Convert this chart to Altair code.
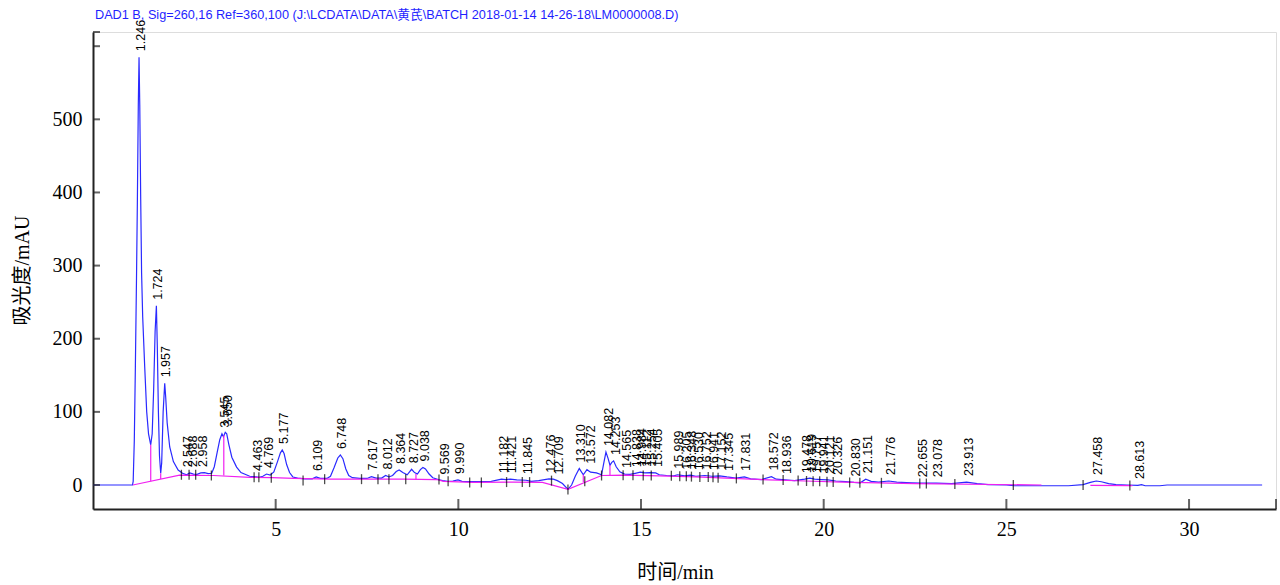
import altair as alt
import pandas as pd

# ---------------- data ----------------
trace_t = [0.0, 1.08, 1.10, 1.13, 1.16, 1.19, 1.215, 1.24, 1.26, 1.28, 1.306, 1.33, 1.36, 1.415, 1.47,
           1.52, 1.58, 1.62, 1.66, 1.70, 1.735, 1.76, 1.79, 1.82, 1.853, 1.88, 1.92, 1.963, 1.99, 2.03,
           2.10, 2.20, 2.33, 2.45, 2.56, 2.65, 2.75, 2.85, 2.95, 3.05, 3.15, 3.25, 3.32, 3.40, 3.47,
           3.53, 3.57, 3.62, 3.66, 3.72, 3.80, 3.93, 4.05, 4.29, 4.46, 4.55, 4.65, 4.75, 4.85, 4.95,
           5.05, 5.13, 5.18, 5.23, 5.30, 5.38, 5.47, 5.60, 5.80, 6.00, 6.11, 6.22, 6.40, 6.50, 6.60,
           6.70, 6.77, 6.84, 6.92, 7.00, 7.10, 7.30, 7.50, 7.62, 7.75, 7.90, 8.01, 8.10, 8.20, 8.30,
           8.38, 8.48, 8.60, 8.72, 8.80, 8.88, 8.96, 9.03, 9.10, 9.20, 9.30, 9.45, 9.57, 9.70, 9.85,
           9.99, 10.10, 10.30, 10.60, 10.90, 11.18, 11.30, 11.42, 11.60, 11.85, 12.00, 12.20, 12.48,
           12.60, 12.71, 12.85, 13.00, 13.10, 13.20, 13.31, 13.42, 13.52, 13.62, 13.78, 13.92, 13.98,
           14.04, 14.10, 14.15, 14.20, 14.25, 14.32, 14.42, 14.55, 14.70, 14.84, 14.98, 15.10, 15.25,
           15.40, 15.50, 15.70, 15.90, 16.00, 16.20, 16.35, 16.50, 16.75, 16.94, 17.15, 17.35, 17.60,
           17.83, 18.00, 18.30, 18.57, 18.70, 18.94, 19.20, 19.48, 19.62, 19.75, 19.94, 20.12, 20.33,
           20.60, 20.83, 21.00, 21.15, 21.30, 21.50, 21.78, 22.00, 22.40, 22.65, 23.08, 23.50, 23.91,
           24.20, 24.50, 25.00, 25.20, 26.70, 27.10, 27.30, 27.46, 27.60, 27.80, 28.00, 28.30, 28.60,
           28.70, 28.80, 29.20, 29.40, 32.00]
trace_v = [0, 0, 5, 60, 162, 280, 390, 520, 585, 520, 390, 290, 230, 162, 100,
           70, 55, 70, 130, 210, 245, 190, 100, 40, 16, 30, 100, 139, 120, 85,
           52, 32, 20.5, 16, 14, 16.5, 15, 14.5, 16.5, 17, 15.5, 16, 25, 45, 62,
           70, 66, 72, 70, 55, 38, 24.5, 17, 12, 11, 10.5, 12, 15, 13.5, 18,
           32, 44, 48, 43, 28, 17, 11, 9.5, 8.5, 8.5, 11, 9, 9, 12, 24,
           37, 41, 36, 22, 13, 10, 9, 9, 11.5, 9.5, 9.5, 13, 11, 13, 18.5,
           20.5, 17, 14, 21.5, 17, 15, 21, 24, 22, 15, 10, 7.5, 6, 5, 5.5,
           7, 5, 4.5, 4.5, 5, 8, 7.5, 8, 7, 6.5, 5, 6, 8.5,
           8, 6, 2, -6, 0, 12, 22.5, 14, 21, 17.5, 16.5, 14, 30,
           45, 36, 27, 31, 33, 25, 18, 15, 14.5, 16, 17.5, 16.5, 17,
           16.5, 14, 13, 12.5, 14, 12.5, 13.5, 12, 13, 12, 12.5, 11, 9.5,
           11, 8.5, 7.5, 11.5, 8, 7, 6, 8, 9.5, 8, 7.5, 7, 5.5,
           4.5, 3.5, 3, 8, 5, 4, 5.5, 4, 3, 2.5, 2.5, 2, 4,
           2, 0.5, 0, -1, -1, 0.5, 3.5, 5.5, 4.5, 2, 0.5, 0, -0.5,
           0.5, -1, -1, 0, 0]

base_seg = [1] * 26 + [2] * 2
base_t = [1.09, 2.37, 3.30, 4.30, 4.90, 5.50, 6.50, 7.50, 8.50, 9.40, 9.60, 10.40, 11.50, 12.30,
          13.00, 13.92, 14.50, 15.50, 16.50, 17.50, 18.50, 19.50, 20.50, 21.50, 22.50, 25.96,
          27.30, 28.45]
base_v = [0, 13.5, 13, 10.5, 10, 9, 8, 8, 8, 7.5, 5, 3.5, 4, 3.5,
          -6, 13, 13.5, 12.5, 11, 9, 7, 5.5, 4, 3, 2, 0,
          -0.5, -0.8]

drop_t = [1.58, 1.853, 3.58, 8.84, 13.42, 14.15]
drop_lo = [5.2, 8.3, 13, 8, 4, 13.2]
drop_hi = [55, 16, 68, 15, 14, 27]

bound_t = [2.42, 2.63, 2.81, 3.24, 4.41, 4.54, 4.88, 5.75, 6.34, 7.35, 7.80, 8.10, 8.56, 9.47, 9.72,
           10.31, 10.63, 11.32, 11.75, 11.95, 12.55, 13.00, 13.46, 13.92, 14.51, 14.78, 15.06, 15.28,
           15.83, 16.06, 16.24, 16.38, 16.61, 16.84, 16.97, 17.11, 17.61, 18.34, 18.89, 19.30, 19.53,
           19.71, 19.89, 20.09, 20.26, 20.71, 20.99, 21.58, 22.63, 22.81, 23.59, 25.19, 27.10, 28.38]
bound_v = [14, 14, 14, 13, 10.5, 10.5, 10, 6, 8, 8, 8, 8, 8, 7.5, 5,
           3.5, 3.5, 4, 4, 4, 6, -6, 5, 13, 13.5, 13.5, 13, 13,
           12.5, 12, 12, 11.5, 11, 11, 10.5, 10, 9, 7.5, 7, 6, 5.5,
           5, 5, 4.5, 4, 3.5, 3, 3, 2, 2, 1.5, 0, 0, -0.5]

label_txt = ["1.246", "1.724", "1.957", "2.547", "2.688", "2.958", "3.545", "3.650", "4.463", "4.769",
             "5.177", "6.109", "6.748", "7.617", "8.012", "8.364", "8.727", "9.038", "9.569", "9.990",
             "11.182", "11.421", "11.845", "12.476", "12.709", "13.310", "13.572", "14.082", "14.253",
             "14.565", "14.838", "14.984", "15.112", "15.254", "15.405", "15.989", "16.205", "16.348",
             "16.530", "16.752", "16.941", "17.152", "17.345", "17.831", "18.572", "18.936", "19.478",
             "19.619", "19.757", "19.941", "20.121", "20.326", "20.830", "21.151", "21.776", "22.655",
             "23.078", "23.913", "27.458", "28.613"]
label_apex = [585, 245, 139, 16, 16.5, 16.5, 70, 72, 11, 15,
              48, 11, 41, 11.5, 13, 20.5, 21.5, 24, 6, 7,
              8, 8, 6.5, 8.5, 6, 22.5, 21, 45, 33,
              15, 16, 17.5, 16.5, 17, 16.5, 14, 12.5, 13.5,
              12, 13, 12, 12.5, 11, 11, 11.5, 7, 8,
              9.5, 8, 7.5, 7, 5.5, 3.5, 8, 5.5, 2.5,
              2.5, 4, 5.5, 0]

x_ticks = [5, 10, 15, 20, 25, 30, 32.38]
y_ticks = [0, 100, 200, 300, 400, 500, 600, 619.4]
x_labels = [5, 10, 15, 20, 25, 30]
y_labels = [0, 100, 200, 300, 400, 500]

TITLE = r"DAD1 B, Sig=260,16 Ref=360,100 (J:\LCDATA\DATA\黄芪\BATCH 2018-01-14 14-26-18\LM0000008.D)"

# ---------------- tables ----------------
trace_df = pd.DataFrame({"t": trace_t, "v": trace_v})
base_df = pd.DataFrame({"t": base_t, "v": base_v, "seg": base_seg})
drop_df = pd.DataFrame({"t": drop_t, "v": drop_lo, "v2": drop_hi})
bound_df = pd.DataFrame({"t": bound_t, "v": bound_v})
label_df = pd.DataFrame({"t": [float(s) for s in label_txt], "v": label_apex, "lab": label_txt})
xt_df = pd.DataFrame({"t": x_ticks})
yt_df = pd.DataFrame({"v": y_ticks})

W, H = 1183, 477
xs = alt.Scale(domain=[0, 32.38], nice=False, zero=False)
ys = alt.Scale(domain=[-32.8, 619.4], nice=False, zero=False)

SERIF = "Liberation Serif, Noto Sans CJK SC"

x_axis = alt.Axis(values=x_labels, title="时间/min", ticks=False, grid=False,
                  labelFont="Liberation Serif", labelFontSize=20, labelColor="#000",
                  labelPadding=10, domainColor="#222", domainWidth=2,
                  titleFont=SERIF, titleFontSize=20, titleFontWeight="normal", titleColor="#000",
                  titleX=582, titleY=63, titleBaseline="middle", titleAlign="center")
y_axis = alt.Axis(values=y_labels, title="吸光度/mAU", ticks=False, grid=False,
                  labelFont="Liberation Serif", labelFontSize=20, labelColor="#000",
                  labelPadding=11, domainColor="#222", domainWidth=2,
                  titleFont=SERIF, titleFontSize=20, titleFontWeight="normal", titleColor="#000",
                  titleAngle=270, titleX=-71, titleY=238, titleBaseline="middle", titleAlign="center")

trace = alt.Chart(trace_df).mark_line(color="#2a2aff", strokeWidth=1.2, clip=True).encode(
    x=alt.X("t:Q", scale=xs, axis=x_axis),
    y=alt.Y("v:Q", scale=ys, axis=y_axis),
)

base = alt.Chart(base_df).mark_line(color="#f020f0", strokeWidth=1.2).encode(
    x=alt.X("t:Q", scale=xs),
    y=alt.Y("v:Q", scale=ys),
    detail="seg:N",
)

drops = alt.Chart(drop_df).mark_rule(color="#f020f0", strokeWidth=1.2).encode(
    x=alt.X("t:Q", scale=xs),
    y=alt.Y("v:Q", scale=ys),
    y2="v2:Q",
)

bounds = alt.Chart(bound_df).mark_tick(color="#000", orient="vertical", size=10, thickness=1.3).encode(
    x=alt.X("t:Q", scale=xs),
    y=alt.Y("v:Q", scale=ys),
)

labels = alt.Chart(label_df).mark_text(angle=270, align="left", baseline="middle", dx=6, dy=2,
                                       font="Liberation Sans", fontSize=12.5, color="#000").encode(
    x=alt.X("t:Q", scale=xs),
    y=alt.Y("v:Q", scale=ys),
    text="lab:N",
)

xticks = alt.Chart(xt_df).mark_tick(color="#222", orient="vertical", size=10, thickness=2).encode(
    x=alt.X("t:Q", scale=xs),
    y=alt.value(H - 5),
)
yticks = alt.Chart(yt_df).mark_tick(color="#222", orient="horizontal", size=7, thickness=2).encode(
    y=alt.Y("v:Q", scale=ys),
    x=alt.value(3.5),
)

chart = alt.layer(trace, base, drops, bounds, labels, xticks, yticks).properties(
    width=W, height=H,
    autosize=alt.AutoSizeParams(type="none"),
    padding={"left": 93, "top": 32, "right": 4, "bottom": 76},
    title=alt.Title(text=TITLE, anchor="start", frame="group", fontSize=12.7,
                    font="Liberation Sans, Noto Sans CJK SC", fontWeight="normal",
                    color="#1f1fff", offset=-2, dx=2),
).configure_view(strokeWidth=0).configure(background="white")

chart.save("out.html", embed_options={"renderer": "svg", "actions": False})
